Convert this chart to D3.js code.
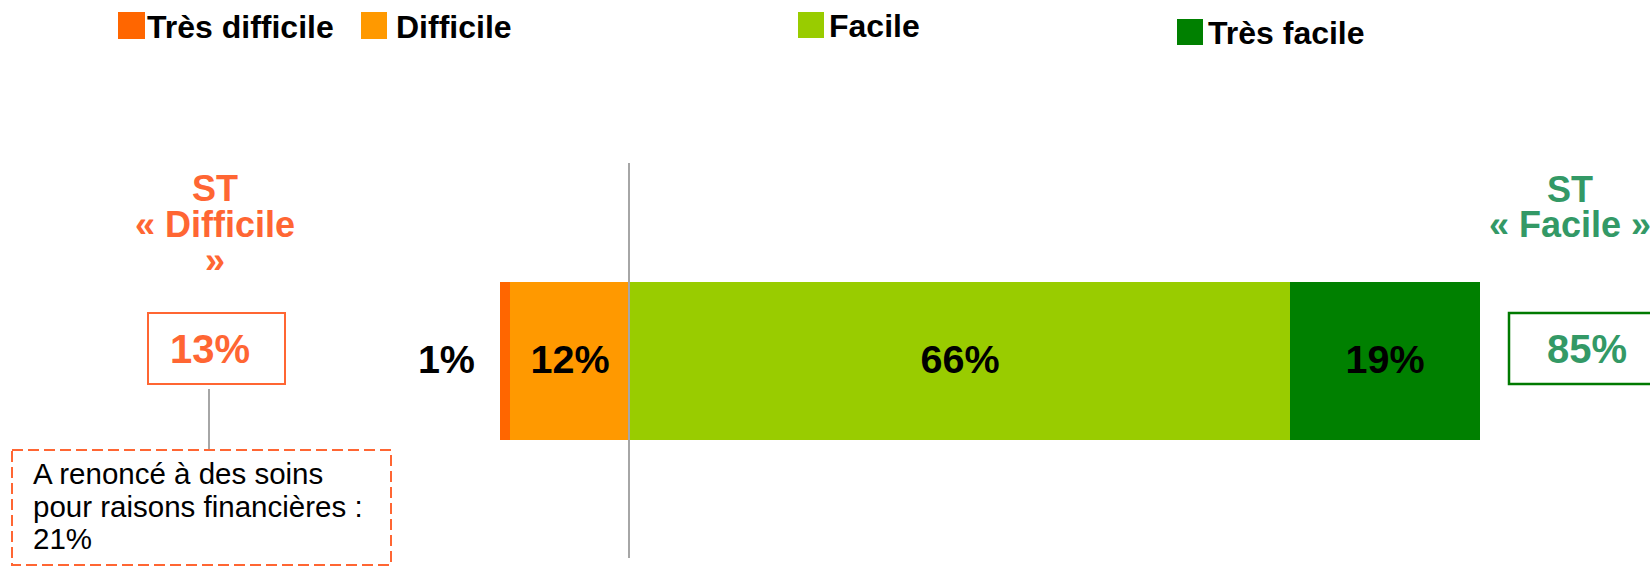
<!DOCTYPE html>
<html>
<head>
<meta charset="utf-8">
<script src="https://cdn.jsdelivr.net/npm/d3@7"></script>
<style>
  body { margin: 0; background: #fff; }
  svg text { font-family: "Liberation Sans", Arial, sans-serif; }
</style>
</head>
<body>
<div id="chart"></div>
<script>
// Data
var categories = ["Très difficile", "Difficile", "Facile", "Très facile"];
var values = [1, 12, 66, 19];
var colors = ["#FF6600", "#FF9900", "#99CC00", "#008000"];
var summaryLabels = ["ST\n« Difficile\n»", "ST\n« Facile »"];
var summaryValues = [13, 85];
var noteLines = ["A renoncé à des soins", "pour raisons financières :", "21%"];

var width = 1650,
    height = 566;

var svg = d3.select("#chart").append("svg")
    .attr("width", width)
    .attr("height", height);

// Scales
var x = d3.scaleLinear()
    .domain([0, 100])
    .range([500, 1500]);

var y = d3.scaleBand()
    .domain(["all"])
    .range([282, 440]);

var ends = Array.from(d3.cumsum(values));
var segs = values.map(function(v, i) {
    return { name: categories[i], value: v, x0: ends[i] - v, x1: ends[i], color: colors[i] };
});

// Legend (hand placed, like the original slide)
var legendPos = [
    { sx: 118, sy: 12, sw: 27, sh: 27, tx: 147, ty: 38 },
    { sx: 361, sy: 12, sw: 26, sh: 27, tx: 396, ty: 38 },
    { sx: 798, sy: 12, sw: 26, sh: 26, tx: 829, ty: 37 },
    { sx: 1177, sy: 19, sw: 26, sh: 26, tx: 1208, ty: 44 }
];

var legend = svg.append("g").attr("class", "legend");
legend.selectAll("rect")
    .data(segs)
    .enter().append("rect")
    .attr("x", function(d, i) { return legendPos[i].sx; })
    .attr("y", function(d, i) { return legendPos[i].sy; })
    .attr("width", function(d, i) { return legendPos[i].sw; })
    .attr("height", function(d, i) { return legendPos[i].sh; })
    .attr("fill", function(d) { return d.color; });

legend.selectAll("text")
    .data(segs)
    .enter().append("text")
    .attr("x", function(d, i) { return legendPos[i].tx; })
    .attr("y", function(d, i) { return legendPos[i].ty; })
    .attr("font-size", 32)
    .attr("font-weight", "bold")
    .attr("fill", "#000")
    .text(function(d) { return d.name; });

// Bar
svg.append("g")
    .selectAll("rect")
    .data(segs)
    .enter().append("rect")
    .attr("x", function(d) { return x(d.x0); })
    .attr("y", y("all"))
    .attr("width", function(d) { return x(d.x1) - x(d.x0); })
    .attr("height", y.bandwidth())
    .attr("fill", function(d) { return d.color; });

// Bar labels
var cy = y("all") + y.bandwidth() / 2;
svg.append("g")
    .selectAll("text")
    .data(segs)
    .enter().append("text")
    .attr("x", function(d, i) {
        if (i == 0) return x(d.x0) - 25;
        return (x(d.x0) + x(d.x1)) / 2;
    })
    .attr("y", cy + 12)
    .attr("text-anchor", function(d, i) { return i == 0 ? "end" : "middle"; })
    .attr("font-size", 39.5)
    .attr("font-weight", "bold")
    .attr("fill", "#000")
    .text(function(d) { return d.value + "%"; });

// Separator line between difficult / easy
svg.append("line")
    .attr("x1", x(ends[1]) - 1)
    .attr("x2", x(ends[1]) - 1)
    .attr("y1", 163)
    .attr("y2", 558)
    .attr("stroke", "#A6A6A6")
    .attr("stroke-width", 2);

// Left summary
var orange = "#FF6633";
var left = svg.append("g");
left.selectAll("text.head")
    .data(summaryLabels[0].split("\n"))
    .enter().append("text")
    .attr("class", "head")
    .attr("x", 215)
    .attr("y", function(d, i) { return [201, 237, 273][i]; })
    .attr("text-anchor", "middle")
    .attr("font-size", 36)
    .attr("font-weight", "bold")
    .attr("fill", orange)
    .text(function(d) { return d; });

left.append("rect")
    .attr("x", 148).attr("y", 313)
    .attr("width", 137).attr("height", 71)
    .attr("fill", "none")
    .attr("stroke", orange)
    .attr("stroke-width", 2);

left.append("text")
    .attr("x", 210).attr("y", 363)
    .attr("text-anchor", "middle")
    .attr("font-size", 40)
    .attr("font-weight", "bold")
    .attr("fill", orange)
    .text(summaryValues[0] + "%");

left.append("line")
    .attr("x1", 209).attr("x2", 209)
    .attr("y1", 389).attr("y2", 450)
    .attr("stroke", "#A6A6A6")
    .attr("stroke-width", 2);

left.append("rect")
    .attr("x", 12).attr("y", 450)
    .attr("width", 379).attr("height", 115)
    .attr("fill", "none")
    .attr("stroke", orange)
    .attr("stroke-width", 2)
    .attr("stroke-dasharray", "11,5");

left.selectAll("text.note")
    .data(noteLines)
    .enter().append("text")
    .attr("class", "note")
    .attr("x", 33)
    .attr("y", function(d, i) { return 484 + i * 32.5; })
    .attr("font-size", 29.5)
    .attr("fill", "#000")
    .text(function(d) { return d; });

// Right summary
var green = "#339966";
var right = svg.append("g");
right.selectAll("text.head")
    .data(summaryLabels[1].split("\n"))
    .enter().append("text")
    .attr("class", "head")
    .attr("x", 1570)
    .attr("y", function(d, i) { return [202, 237][i]; })
    .attr("text-anchor", "middle")
    .attr("font-size", 36)
    .attr("font-weight", "bold")
    .attr("fill", green)
    .text(function(d) { return d; });

right.append("rect")
    .attr("x", 1509).attr("y", 313)
    .attr("width", 160).attr("height", 71)
    .attr("fill", "none")
    .attr("stroke", "#007A00")
    .attr("stroke-width", 2.5);

right.append("text")
    .attr("x", 1587).attr("y", 363)
    .attr("text-anchor", "middle")
    .attr("font-size", 40)
    .attr("font-weight", "bold")
    .attr("fill", green)
    .text(summaryValues[1] + "%");
</script>
</body>
</html>
